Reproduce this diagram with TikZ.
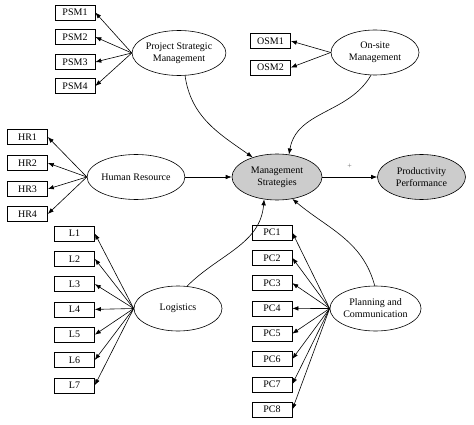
\documentclass[tikz,border=0pt]{standalone}
\usepackage{fontspec}
\setmainfont{Liberation Serif}
\usetikzlibrary{shapes.geometric,arrows.meta}

\tikzset{
    item/.style={draw, minimum width=40pt, minimum height=15pt, inner sep=0pt, font=\fontsize{10}{12}\selectfont},
    factor/.style={draw, ellipse, minimum width=88pt, minimum height=45pt, inner sep=0pt, align=center, font=\fontsize{10}{12}\selectfont},
    load/.style={-{Latex[length=6pt,width=4.5pt]}},
}

\begin{document}
\begin{tikzpicture}[x=1pt,y=-1pt,line width=0.6pt]
            \useasboundingbox (0,0) rectangle (474,425);

            % latent variables
            \node[factor] (psm) at (179,53) {Project Strategic\\Management};
            \node[factor] (osm) at (375,52.5) {On-site\\Management};
            \node[factor] (hr) at (136,177) {Human Resource};
            \node[factor] (log) at (178,308.5) {Logistics};
            \node[factor] (pc) at (375.5,308.5) {Planning and\\Communication};
            \node[factor, fill=gray!40, minimum width=90pt, minimum height=46pt] (ms) at (277,177) {Management\\Strategies};
            \node[factor, fill=gray!40] (pp) at (421.5,177) {Productivity\\Performance};

            % indicators
            \foreach \i/\y in {1/12.5,2/37,3/62,4/86} {
                \node[item] (psm\i) at (75,\y) {PSM\i};
                \draw[load] (psm.west) -- (psm\i.east);
            }
            \foreach \i/\y in {1/41,2/67.5} {
                \node[item] (osm\i) at (270.5,\y) {OSM\i};
                \draw[load] (osm.west) -- (osm\i.east);
            }
            \foreach \i/\y in {1/137,2/163,3/189,4/214} {
                \node[item] (hr\i) at (27.5,\y) {HR\i};
                \draw[load] (hr.west) -- (hr\i.east);
            }
            \foreach \i in {1,...,7} {
                \node[item] (l\i) at (74.5,{233.5+25.3*(\i-1)}) {L\i};
                \draw[load] (log.west) -- (l\i.east);
            }
            \foreach \i in {1,...,8} {
                \node[item] (pc\i) at (272,{232.5+25.3*(\i-1)}) {PC\i};
                \draw[load] (pc.west) -- (pc\i.east);
            }

            % structural paths
            \draw[load] (psm.-75) to[out=-82, in=145] (ms.141);
            \draw[load] (osm.-100) to[out=-120, in=80] (ms.62);
            \draw[load] (log.68) to[out=45, in=-95] (ms.-120);
            \draw[load] (pc.92) to[out=105, in=-40] (ms.-55);
            \draw[load] (hr.east) -- (ms.west);
            \draw[load] (ms.east) -- node[above=5pt, font=\fontsize{8}{9}\selectfont, text=black!55]{+} (pp.west);
        \end{tikzpicture}
\end{document}
